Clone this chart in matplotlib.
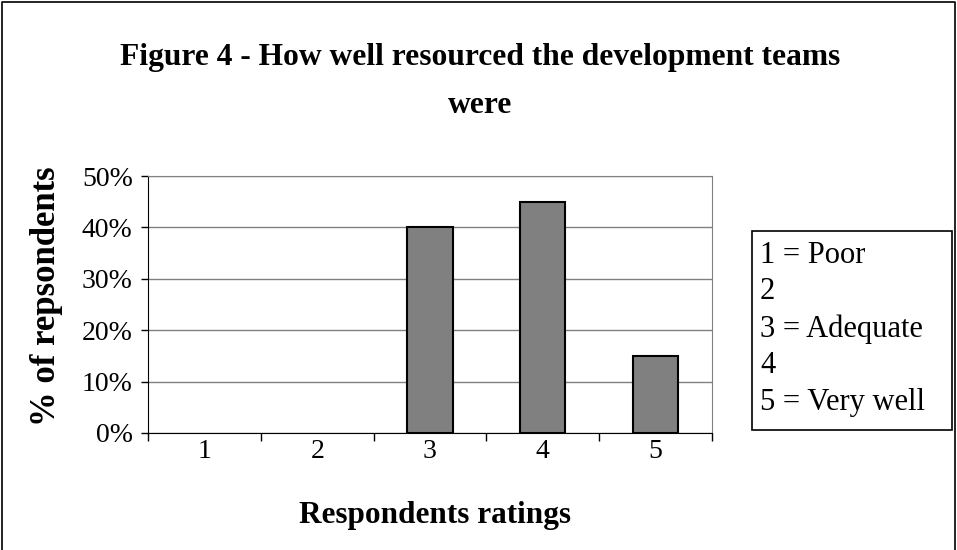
import matplotlib
matplotlib.use("Agg")
import matplotlib.pyplot as plt
from matplotlib.patches import Rectangle
from matplotlib.lines import Line2D
import numpy as np

# survey data: share of respondents per rating
ratings = ["1", "2", "3", "4", "5"]
share = [0, 0, 40, 45, 15]
yticks = [0, 10, 20, 30, 40, 50]
legend_lines = ["1 = Poor", "2", "3 = Adequate", "4", "5 = Very well"]

plt.rcParams["font.family"] = ["Liberation Serif", "DejaVu Serif"]

fig = plt.figure(figsize=(9.57, 5.5), dpi=100)
W, H = 957, 550

# outer chart border (bottom edge is cropped off in the original)
fig.lines.append(Line2D([2 / W, 2 / W, 955 / W, 955 / W], [0, 1 - 2 / H, 1 - 2 / H, 0],
                        transform=fig.transFigure, color="black", linewidth=1.2))

ax = fig.add_axes([148 / W, 1 - 433 / H, 564 / W, 257 / H])

x = np.arange(len(ratings))
edge_w = [1.5 if v > 0 else 0 for v in share]
ax.bar(x, share, width=0.4, color="#808080", edgecolor="black", linewidth=edge_w, zorder=3)

ax.set_xlim(-0.5, len(ratings) - 0.5)
ax.set_ylim(0, 50)
ax.set_yticks(yticks)
ax.set_yticklabels([f"{v}%" for v in yticks], fontsize=20)
ax.set_xticks(x)
ax.set_xticklabels(ratings, fontsize=20)
ax.set_xticks(np.arange(-0.5, len(ratings)), minor=True)
ax.tick_params(axis="x", which="major", length=0, pad=4)
ax.tick_params(axis="x", which="minor", length=6, width=1, direction="out", color="black")
ax.tick_params(axis="y", length=5, width=1, direction="out", pad=6)

ax.yaxis.grid(True, color="#808080", linewidth=1)
ax.set_axisbelow(True)
for side in ["top", "right"]:
    ax.spines[side].set_color("#808080")
ax.spines["left"].set_color("black")
ax.spines["bottom"].set_color("black")

# axis titles
fig.text(435 / W, 1 - 516 / H, "Respondents ratings", ha="center", va="center",
         fontsize=22.5, fontweight="bold")
fig.text(47 / W, 1 - 296 / H, "% of repsondents", ha="center", va="center",
         rotation=90, fontsize=25, fontweight="bold")

fig.text(480 / W, 1 - 65 / H, "Figure 4 - How well resourced the development teams",
         ha="center", va="baseline", fontsize=22.7, fontweight="bold")
fig.text(480 / W, 1 - 113 / H, "were", ha="center", va="baseline", fontsize=22.7,
         fontweight="bold")

# legend box drawn by hand like the Excel key
fig.patches.append(Rectangle((752 / W, 1 - 430 / H), 200 / W, 199 / H, transform=fig.transFigure,
                             fill=False, edgecolor="black", linewidth=1.2))
fig.text(760 / W, 1 - 241 / H, "\n".join(legend_lines), ha="left", va="top",
         fontsize=22, linespacing=1.34)

fig.savefig("out.png", dpi=100)
